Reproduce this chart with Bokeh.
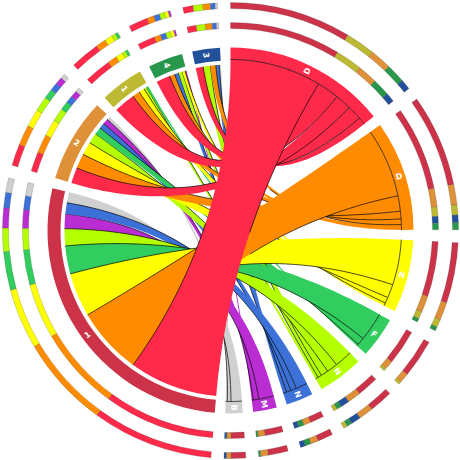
import numpy as np
from bokeh.plotting import figure
from bokeh.models import Range1d
from bokeh.embed import file_html
from bokeh.resources import INLINE
from bokeh.core.properties import value

# Right-hand sectors (rows), left-hand sectors (columns)
row_labels = ["D", "D", "N", "F", "N", "N", "M", "B"]
row_colors = ["#FF2A4A", "#FF8C00", "#FFFF00", "#32CD5F", "#B4FF00", "#3C72D8", "#BA2DD3", "#D0D0D0"]
col_labels = ["1", "2", "1", "4", "3"]
col_colors = ["#CC3349", "#DE9138", "#BEB932", "#28964B", "#23509B"]

# Ribbon sizes (row by column; columns in the order of col_labels)
row_D = [31.0, 5.5, 7.5, 4.9, 2.6]
row_P = [23.5, 5.2, 2.6, 1.8, 1.9]
row_Y = [15.4, 4.6, 2.0, 1.0, 0.0]
row_G = [9.8, 2.5, 0.7, 0.0, 0.0]
row_L = [6.0, 3.7, 1.0, 1.3, 2.5]
row_B = [3.9, 2.0, 0.0, 1.5, 1.2]
row_U = [5.1, 1.9, 0.0, 0.5, 0.0]
row_R = [3.7, 1.2, 0.0, 0.0, 0.6]

matrix = np.array([row_D, row_P, row_Y, row_G, row_L, row_B, row_U, row_R])
n_rows, n_cols = matrix.shape
GAP = 360.0 - matrix.sum() * 2
GAP /= (n_rows + n_cols)

def rad(theta):
    return np.radians(90.0 - theta)

def pt(theta, r):
    t = rad(theta)
    return r * np.cos(t), r * np.sin(t)

def arc(t1, t2, r):
    n = max(int(abs(t2 - t1) * 2), 2) + 1
    th = np.linspace(t1, t2, n)
    return pt(th, r)

def bez(t1, r1, t2, r2):
    x1, y1 = pt(t1, r1)
    x2, y2 = pt(t2, r2)
    s = np.linspace(0, 1, 60)
    return (1 - s) ** 2 * x1 + s ** 2 * x2, (1 - s) ** 2 * y1 + s ** 2 * y2

# layout: clockwise from twelve o'clock
row_start, col_start = [], []
th = 0.0
for i in range(n_rows):
    row_start.append(th)
    th += matrix[i].sum() + GAP
for j in range(n_cols):
    col_start.append(th)
    th += matrix[:, j].sum() + GAP

row_segs = {}
row_last = {}
for i in range(n_rows):
    t = row_start[i]
    for j in sorted(range(n_cols), key=lambda c: -matrix[i, c]):
        if matrix[i, j] > 0:
            row_segs[(i, j)] = (t, t + matrix[i, j])
            t += matrix[i, j]
            row_last[i] = j
col_segs = {}
col_last = {}
for j in range(n_cols):
    t = col_start[j]
    for i in sorted(range(n_rows), key=lambda r: -matrix[r, j]):
        if matrix[i, j] > 0:
            col_segs[(i, j)] = (t, t + matrix[i, j])
            t += matrix[i, j]
            col_last[j] = i

p = figure(width=460, height=460, output_backend="svg", toolbar_location=None,
           x_range=Range1d(-230, 230), y_range=Range1d(-230, 230),
           min_border=0, margin=(0, 0, 0, 0))
p.axis.visible = False
p.grid.visible = False
p.outline_line_color = None
p.background_fill_color = "white"

R_END_RIGHT, R_END_LEFT = 171.0, 166.0
RING_IN, RING_OUT = 170.0, 183.0
STROKE = 0.7
VISIBLE = 30  # points of each 60-point edge that carry a black line, from the sector end

# ribbons, biggest last so that it lies on top
for i in range(n_rows - 1, -1, -1):
    for j in sorted(range(n_cols), key=lambda c: matrix[i, c]):
        if matrix[i, j] <= 0:
            continue
        a1, a2 = row_segs[(i, j)]
        b1, b2 = col_segs[(i, j)]
        ax, ay = arc(a1, a2, R_END_RIGHT)
        e1x, e1y = bez(a2, R_END_RIGHT, b1, R_END_LEFT)
        bx, by = arc(b1, b2, R_END_LEFT)
        e2x, e2y = bez(b2, R_END_LEFT, a1, R_END_RIGHT)
        xs = np.concatenate([ax, e1x, bx, e2x])
        ys = np.concatenate([ay, e1y, by, e2y])
        p.patch(xs, ys, fill_color=row_colors[i], line_color=None)
        lx, ly = [], []
        if row_last[i] != j:  # boundary inside the right-hand sector
            lx.append(e1x[:VISIBLE].tolist())
            ly.append(e1y[:VISIBLE].tolist())
        if col_last[j] != i:  # boundary inside the left-hand sector
            lx.append(e2x[:VISIBLE].tolist())
            ly.append(e2y[:VISIBLE].tolist())
        if lx:
            p.multi_line(lx, ly, line_color="black", line_width=STROKE)

# sector rings
for i in range(n_rows):
    t1, t2 = row_start[i], row_start[i] + matrix[i].sum()
    p.annular_wedge(0, 0, R_END_RIGHT, RING_OUT, rad(t2), rad(t1),
                    fill_color=row_colors[i], line_color=None)
for j in range(n_cols):
    t1, t2 = col_start[j], col_start[j] + matrix[:, j].sum()
    p.annular_wedge(0, 0, RING_IN, RING_OUT, rad(t2), rad(t1),
                    fill_color=col_colors[j], line_color=None)

# ends of the ribbons on the right-hand sectors
for (i, j), (a1, a2) in row_segs.items():
    x, y = arc(a1, a2, R_END_RIGHT)
    p.line(x, y, line_color="black", line_width=STROKE)

# outer stacked tracks
for r_in, r_out in [(202.0, 208.0), (222.0, 228.0)]:
    for (i, j), (a1, a2) in row_segs.items():
        p.annular_wedge(0, 0, r_in, r_out, rad(a2), rad(a1), fill_color=col_colors[j],
                        line_color="#333333", line_width=0.2)
    for (i, j), (b1, b2) in col_segs.items():
        p.annular_wedge(0, 0, r_in, r_out, rad(b2), rad(b1), fill_color=row_colors[i],
                        line_color="#333333", line_width=0.2)

# sector labels, radial
def label(theta, r, text):
    x, y = pt(theta, r)
    ang = 90.0 - theta
    if theta > 180:
        ang += 180.0
    p.text([x], [y], text=[text], angle=np.radians(ang), text_color="white",
           text_font=value("DejaVu Sans"), text_font_style="bold", text_font_size="6pt",
           text_align="center", text_baseline="middle")

for i in range(n_rows):
    label(row_start[i] + matrix[i].sum() / 2, 177, row_labels[i])
for j in range(n_cols):
    label(col_start[j] + matrix[:, j].sum() / 2, 177, col_labels[j])

open("out.html", "w").write(file_html(p, INLINE))
